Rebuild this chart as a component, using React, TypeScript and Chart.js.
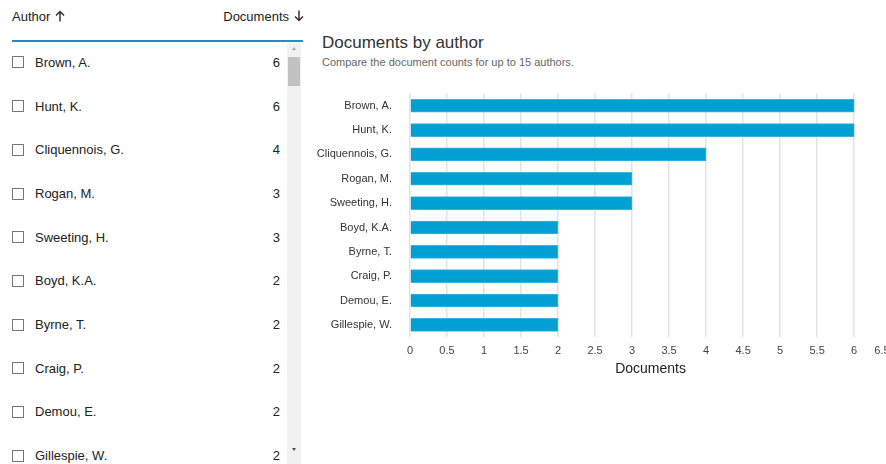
import React, { useEffect, useRef } from "react";
import { Chart, registerables } from "chart.js";

Chart.register(...registerables);

const authors = [
  "Brown, A.",
  "Hunt, K.",
  "Cliquennois, G.",
  "Rogan, M.",
  "Sweeting, H.",
  "Boyd, K.A.",
  "Byrne, T.",
  "Craig, P.",
  "Demou, E.",
  "Gillespie, W.",
];
const documents = [6, 6, 4, 3, 3, 2, 2, 2, 2, 2];
const xMin = 0;
const xMax = 6.5;
const xStep = 0.5;

const FONT = "'Liberation Sans', Arial, Helvetica, sans-serif";

function BarChart() {
  const ref = useRef<HTMLCanvasElement | null>(null);
  useEffect(() => {
    if (!ref.current) return;
    const chart = new Chart(ref.current, {
      type: "bar",
      data: {
        labels: authors,
        datasets: [
          {
            label: "Documents",
            data: documents,
            backgroundColor: "#00a0d3",
            borderColor: "#3db4e0",
            borderWidth: 1,
            barThickness: 13,
          },
        ],
      },
      options: {
        indexAxis: "y",
        animation: false,
        responsive: false,
        maintainAspectRatio: false,
        layout: { padding: 0 },
        plugins: {
          legend: { display: false },
          tooltip: { enabled: false },
        },
        scales: {
          x: {
            type: "linear",
            min: xMin,
            max: xMax,
            ticks: {
              stepSize: xStep,
              padding: 7,
              maxRotation: 0,
              minRotation: 0,
              autoSkip: false,
              color: "#444",
              font: { family: FONT, size: 11 },
              // the last label is pushed left (clipped at the edge) as in the reference
              callback: (v: any) => (Number(v) === xMax ? String(Number(v)) + "\u2007\u2007\u2007" : String(Number(v))),
            },
            grid: { color: "#e3e3e3", lineWidth: 1.5, drawTicks: false },
            border: { display: false },
            title: {
              display: true,
              text: "Documents",
              color: "#222",
              font: { family: FONT, size: 14 },
              align: "center",
              padding: { top: 4, bottom: 2 },
            },
            afterFit: (s: any) => {
              s.height = 43;
            },
          },
          y: {
            ticks: {
              color: "#333",
              font: { family: FONT, size: 11 },
              padding: 10,
            },
            grid: { display: false },
            border: { display: false },
            afterFit: (s: any) => {
              s.width = 98;
            },
          },
        },
      },
    });
    return () => chart.destroy();
  }, []);
  return (
    <canvas
      ref={ref}
      width={603}
      height={303}
      style={{ position: "absolute", left: 312, top: 77, width: 603, height: 303 }}
    />
  );
}

function Arrow({ down }: { down?: boolean }) {
  return (
    <svg
      width="10"
      height="12"
      viewBox="0 0 10 12"
      style={{ display: "inline-block", verticalAlign: "-1px", marginLeft: 5, transform: down ? "rotate(180deg)" : undefined }}
    >
      <path d="M5 11.5 V1.5 M1 5.5 L5 1.5 L9 5.5" stroke="#333" strokeWidth="1.5" fill="none" />
    </svg>
  );
}

export default function App() {
  const rowH = 43.67;
  return (
    <div
      style={{
        position: "fixed",
        left: 0,
        top: 0,
        width: 886,
        height: 464,
        overflow: "hidden",
        background: "#fff",
        fontFamily: FONT,
        color: "#222",
      }}
    >
      {/* Left list header */}
      <div style={{ position: "absolute", left: 12, top: 8, fontSize: 13, lineHeight: "18px", whiteSpace: "nowrap" }}>
        Author
        <Arrow />
      </div>
      <div
        style={{
          position: "absolute",
          right: 886 - 304,
          top: 8,
          fontSize: 13,
          lineHeight: "18px",
          whiteSpace: "nowrap",
        }}
      >
        Documents
        <Arrow down />
      </div>
      <div
        style={{
          position: "absolute",
          left: 12,
          top: 40,
          width: 291,
          height: 2,
          background: "#2b8ab6",
        }}
      />
      {/* Rows */}
      {authors.map((a, i) => (
        <div
          key={a}
          style={{
            position: "absolute",
            left: 0,
            top: 62.5 - rowH / 2 + i * rowH,
            width: 286,
            height: rowH,
            display: "flex",
            alignItems: "center",
            fontSize: 13,
          }}
        >
          <div
            style={{
              position: "absolute",
              left: 12,
              width: 10,
              height: 10,
              border: "1.5px solid #777",
              background: "#fff",
            }}
          />
          <div style={{ position: "absolute", left: 35, whiteSpace: "nowrap" }}>{a}</div>
          <div style={{ position: "absolute", right: 6, whiteSpace: "nowrap" }}>{documents[i]}</div>
        </div>
      ))}
      {/* Scrollbar */}
      <div
        style={{
          position: "absolute",
          left: 287,
          top: 43,
          width: 14,
          height: 421,
          background: "#f1f1f1",
        }}
      >
        <div
          style={{
            position: "absolute",
            left: 5,
            top: 4,
            width: 0,
            height: 0,
            borderLeft: "2px solid transparent",
            borderRight: "2px solid transparent",
            borderBottom: "3px solid #a3a3a3",
          }}
        />
        <div
          style={{
            position: "absolute",
            left: 1,
            top: 14,
            width: 12,
            height: 29,
            background: "#c1c1c1",
          }}
        />
        <div
          style={{
            position: "absolute",
            left: 5,
            top: 405,
            width: 0,
            height: 0,
            borderLeft: "2px solid transparent",
            borderRight: "2px solid transparent",
            borderTop: "3px solid #505050",
          }}
        />
      </div>
      {/* Chart title */}
      <div
        style={{
          position: "absolute",
          left: 322,
          top: 33,
          fontSize: 17,
          lineHeight: "20px",
          color: "#333",
          whiteSpace: "nowrap",
        }}
      >
        Documents by author
      </div>
      <div
        style={{
          position: "absolute",
          left: 322,
          top: 55,
          fontSize: 11,
          lineHeight: "14px",
          color: "#666",
          whiteSpace: "nowrap",
        }}
      >
        Compare the document counts for up to 15 authors.
      </div>
      <BarChart />
    </div>
  );
}
